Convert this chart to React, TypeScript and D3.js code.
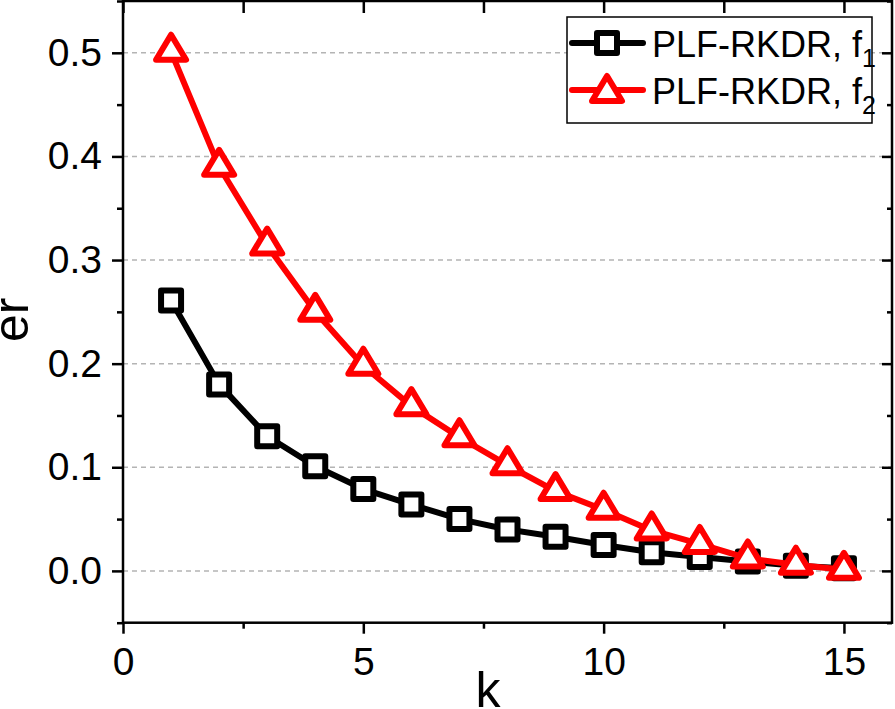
import React, { useEffect, useRef } from "react";
import * as d3 from "d3";

// data
const kValues = [1, 2, 3, 4, 5, 6, 7, 8, 9, 10, 11, 12, 13, 14, 15];
const f1Values = [0.261, 0.18, 0.13, 0.101, 0.079, 0.064, 0.05, 0.04, 0.033, 0.025, 0.018, 0.0135, 0.009, 0.005, 0.0025];
const f2Values = [0.501, 0.39, 0.314, 0.25, 0.198, 0.159, 0.129, 0.102, 0.077, 0.059, 0.039, 0.026, 0.012, 0.006, 0.001];
const seriesLabels = ["PLF-RKDR, f", "PLF-RKDR, f"];
const seriesSubs = ["1", "2"];
const xMajorTicks = [0, 5, 10, 15];
const xMinorTicks = [2.5, 7.5, 12.5];
const yMajorTicks = [0, 0.1, 0.2, 0.3, 0.4, 0.5];
const yMinorTicks = [-0.05, 0.05, 0.15, 0.25, 0.35, 0.45, 0.55];

const W = 895;
const H = 709;
const FONT = "'Liberation Sans', Arial, sans-serif";

const App: React.FC = () => {
  const svgRef = useRef<SVGSVGElement>(null);

  useEffect(() => {
    document.body.style.margin = "0";
    if (!svgRef.current) return;
    const svg = d3.select(svgRef.current);
    svg.selectAll("*").remove();

    const left = 123, right = 892, top = 1, bottom = 622.7;
    const x = d3.scaleLinear().domain([0, 16]).range([left, right]);
    const y = d3.scaleLinear().domain([-0.05, 0.55]).range([bottom, top]);

    svg.append("rect").attr("width", W).attr("height", H).attr("fill", "white");

    // dashed grid at the major y ticks
    svg
      .append("g")
      .selectAll("line")
      .data(yMajorTicks)
      .enter()
      .append("line")
      .attr("x1", left)
      .attr("x2", right)
      .attr("y1", (d) => y(d))
      .attr("y2", (d) => y(d))
      .attr("stroke", "#b4b4b4")
      .attr("stroke-width", 1.5)
      .attr("stroke-dasharray", "5,4");

    // axes: outward ticks on left/bottom, inward on top/right
    const styleAxis = (g: any) => {
      g.select(".domain").remove();
      g.selectAll("line").attr("stroke", "black").attr("stroke-width", 2.5);
      g.selectAll("text")
        .attr("font-family", FONT)
        .attr("font-size", 39)
        .attr("fill", "black");
    };

    svg.append("g")
      .attr("transform", `translate(${left},0)`)
      .call(d3.axisLeft(y).tickValues(yMajorTicks).tickSize(11).tickPadding(10).tickFormat(d3.format(".1f")))
      .call(styleAxis);
    svg.append("g")
      .attr("transform", `translate(${left},0)`)
      .call(d3.axisLeft(y).tickValues(yMinorTicks).tickSize(6).tickFormat(() => ""))
      .call(styleAxis);
    svg.append("g")
      .attr("transform", `translate(0,${bottom})`)
      .call(d3.axisBottom(x).tickValues(xMajorTicks).tickSize(11).tickPadding(14).tickFormat(d3.format("d")))
      .call(styleAxis);
    svg.append("g")
      .attr("transform", `translate(0,${bottom})`)
      .call(d3.axisBottom(x).tickValues(xMinorTicks).tickSize(6).tickFormat(() => ""))
      .call(styleAxis);
    svg.append("g")
      .attr("transform", `translate(${right},0)`)
      .call(d3.axisRight(y).tickValues(yMajorTicks).tickSize(-10).tickFormat(() => ""))
      .call(styleAxis);
    svg.append("g")
      .attr("transform", `translate(${right},0)`)
      .call(d3.axisRight(y).tickValues(yMinorTicks).tickSize(-5).tickFormat(() => ""))
      .call(styleAxis);
    svg.append("g")
      .attr("transform", `translate(0,${top})`)
      .call(d3.axisTop(x).tickValues(xMajorTicks).tickSize(-12).tickFormat(() => ""))
      .call(styleAxis);
    svg.append("g")
      .attr("transform", `translate(0,${top})`)
      .call(d3.axisTop(x).tickValues(xMinorTicks).tickSize(-12).tickFormat(() => ""))
      .call(styleAxis);

    // frame
    svg.append("rect")
      .attr("x", left)
      .attr("y", top)
      .attr("width", right - left)
      .attr("height", bottom - top)
      .attr("fill", "none")
      .attr("stroke", "black")
      .attr("stroke-width", 2.5);

    // marker shapes
    const squarePath = "M-10,-10H10V10H-10Z";
    const trianglePath = "M0,-17L15,8H-15Z";

    const series = [
      { values: f1Values, color: "black", marker: squarePath },
      { values: f2Values, color: "#ff0000", marker: trianglePath },
    ];

    const line = d3
      .line<number>()
      .x((d, i) => x(kValues[i]))
      .y((d) => y(d));

    series.forEach((s) => {
      const g = svg.append("g");
      g.append("path")
        .attr("d", line(s.values))
        .attr("fill", "none")
        .attr("stroke", s.color)
        .attr("stroke-width", 6)
        .attr("stroke-linejoin", "round");
      g.selectAll("path.m")
        .data(s.values)
        .enter()
        .append("path")
        .attr("class", "m")
        .attr("d", s.marker)
        .attr("transform", (d, i) => `translate(${x(kValues[i])},${y(d)})`)
        .attr("fill", "white")
        .attr("stroke", s.color)
        .attr("stroke-width", 6)
        .attr("stroke-linejoin", "round");
    });

    // axis titles
    svg.append("text")
      .attr("x", 488)
      .attr("y", 707)
      .attr("text-anchor", "middle")
      .attr("font-family", FONT)
      .attr("font-size", 50)
      .text("k");
    svg.append("text")
      .attr("transform", `translate(28,${(top + bottom) / 2 + 8}) rotate(-90)`)
      .attr("text-anchor", "middle")
      .attr("font-family", FONT)
      .attr("font-size", 50)
      .text("er");

    // legend
    const leg = svg.append("g");
    leg.append("rect")
      .attr("x", 567)
      .attr("y", 17)
      .attr("width", 305)
      .attr("height", 106)
      .attr("fill", "white")
      .attr("stroke", "black")
      .attr("stroke-width", 1.5);
    const rowY = [43, 90];
    series.forEach((s, i) => {
      const ry = rowY[i];
      leg.append("line")
        .attr("x1", 572)
        .attr("x2", 643)
        .attr("y1", ry)
        .attr("y2", ry)
        .attr("stroke", s.color)
        .attr("stroke-width", 6)
        .attr("stroke-linecap", "round");
      leg.append("path")
        .attr("d", s.marker)
        .attr("transform", `translate(607,${ry + (i === 1 ? 3 : 0)})`)
        .attr("fill", "white")
        .attr("stroke", s.color)
        .attr("stroke-width", 6)
        .attr("stroke-linejoin", "round");
      const t = leg.append("text")
        .attr("x", 652)
        .attr("y", ry + 14)
        .attr("font-family", FONT)
        .attr("font-size", 36)
        .attr("fill", "black");
      t.append("tspan").text(seriesLabels[i]);
      t.append("tspan").attr("font-size", 25).attr("dy", 10).text(seriesSubs[i]);
    });
  }, []);

  return (
    <svg
      ref={svgRef}
      width={W}
      height={H}
      viewBox={`0 0 ${W} ${H}`}
      style={{ display: "block" }}
    />
  );
};

export default App;
